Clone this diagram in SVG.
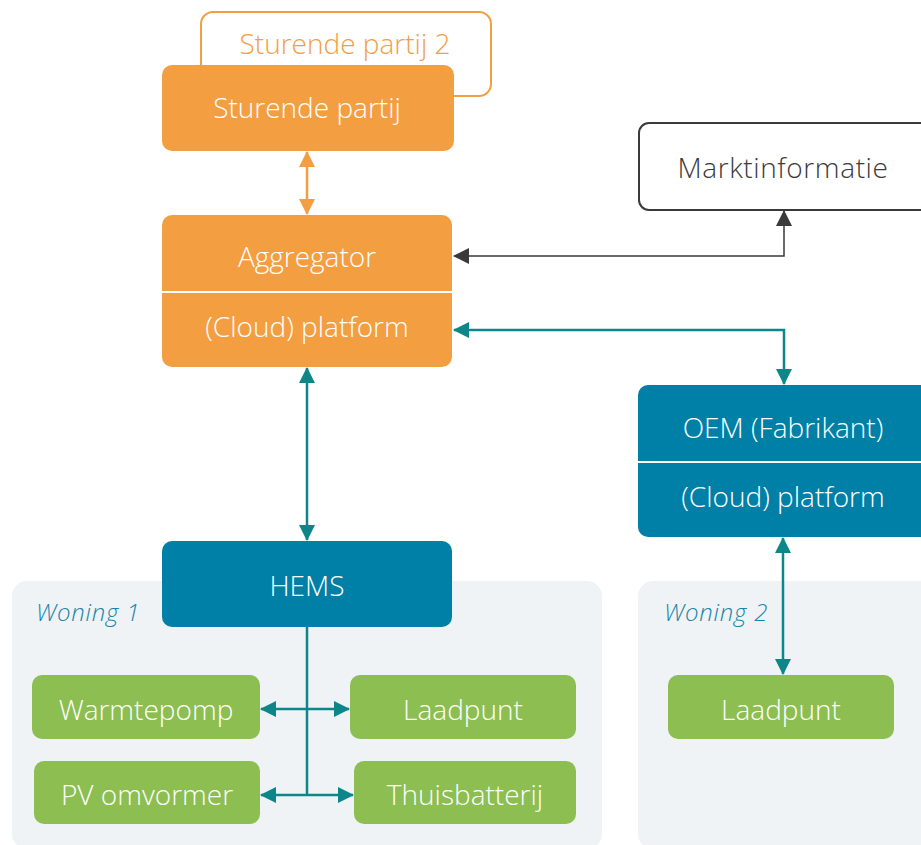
<svg xmlns="http://www.w3.org/2000/svg" width="921" height="845" viewBox="0 0 921 845">
  <defs>
    <style>
      .lbl { font-family: "Open Sans", "Liberation Sans", sans-serif; font-size: 28px; font-weight: 300; text-anchor: middle; fill: #ffffff; }
      .dark { fill: #3a3a3a; }
      .orangeTxt { fill: #f49e42; }
      .zone { fill: #eff3f6; }
      .zoneLbl { font-family: "Open Sans", "Liberation Sans", sans-serif; font-size: 24px; font-style: italic; font-weight: 300; letter-spacing: 0.8px; fill: #1b85a9; }
      .orange { fill: #f49e42; }
      .blue { fill: #0080a6; }
      .green { fill: #8cbe51; }
      .divider { stroke: #ffffff; stroke-width: 2; }
      .conn { fill: none; }
      .teal { stroke: #0d8689; stroke-width: 2.5; marker-start: url(#headTeal); marker-end: url(#headTeal); }
      .gray { stroke: #3a3a3a; stroke-width: 1.5; marker-start: url(#headGray); marker-end: url(#headGray); }
      .orangeLn { stroke: #f49e42; stroke-width: 2.5; marker-start: url(#headOrange); marker-end: url(#headOrange); }
      .teal-plain { stroke: #0d8689; stroke-width: 2.5; }
    </style>
    <marker id="headTeal" viewBox="0 0 16 16" refX="15" refY="8" markerWidth="16" markerHeight="16" markerUnits="userSpaceOnUse" orient="auto-start-reverse">
      <path d="M0,0 L16,8 L0,16 Z" fill="#0d8689"/>
    </marker>
    <marker id="headGray" viewBox="0 0 16 16" refX="15" refY="8" markerWidth="16" markerHeight="16" markerUnits="userSpaceOnUse" orient="auto-start-reverse">
      <path d="M0,0 L16,8 L0,16 Z" fill="#3a3a3a"/>
    </marker>
    <marker id="headOrange" viewBox="0 0 16 16" refX="15" refY="8" markerWidth="16" markerHeight="16" markerUnits="userSpaceOnUse" orient="auto-start-reverse">
      <path d="M0,0 L16,8 L0,16 Z" fill="#f49e42"/>
    </marker>
  </defs>

  <rect width="921" height="845" fill="#ffffff"/>

  <!-- household zones -->
  <g id="woning1">
    <rect class="zone" x="12" y="581" width="590" height="268" rx="15"/>
    <text class="zoneLbl" x="36" y="621">Woning 1</text>
  </g>
  <g id="woning2">
    <rect class="zone" x="638" y="581" width="300" height="268" rx="15"/>
    <text class="zoneLbl" x="664" y="621">Woning 2</text>
  </g>

  <!-- steering parties -->
  <g id="sturende-partij-2">
    <rect x="201" y="12" width="290" height="84" rx="12" fill="#ffffff" stroke="#f49e42" stroke-width="2"/>
    <text class="lbl orangeTxt" x="345" y="54">Sturende partij 2</text>
  </g>
  <g id="sturende-partij">
    <rect class="orange" x="162" y="65" width="292" height="86" rx="10"/>
    <text class="lbl" x="307" y="118">Sturende partij</text>
  </g>

  <g id="aggregator">
    <rect class="orange" x="162" y="215" width="290" height="152" rx="10"/>
    <line class="divider" x1="162" y1="292" x2="452" y2="292"/>
    <text class="lbl" x="307" y="267">Aggregator</text>
    <text class="lbl" x="307" y="337">(Cloud) platform</text>
  </g>

  <g id="marktinformatie">
    <rect x="639" y="123" width="300" height="87" rx="10" fill="#ffffff" stroke="#3a3a3a" stroke-width="2"/>
    <text class="lbl dark" x="783" y="178" style="letter-spacing:0.6px">Marktinformatie</text>
  </g>

  <g id="oem">
    <rect class="blue" x="638" y="385" width="300" height="152" rx="10"/>
    <line class="divider" x1="638" y1="462" x2="921" y2="462"/>
    <text class="lbl" x="783" y="438">OEM (Fabrikant)</text>
    <text class="lbl" x="783" y="507">(Cloud) platform</text>
  </g>

  <g id="hems">
    <rect class="blue" x="162" y="541" width="290" height="86" rx="10"/>
    <text class="lbl" x="307" y="596">HEMS</text>
  </g>

  <!-- devices -->
  <g id="warmtepomp">
    <rect class="green" x="32" y="675" width="228" height="64" rx="10"/>
    <text class="lbl" x="146" y="720">Warmtepomp</text>
  </g>
  <g id="laadpunt-1">
    <rect class="green" x="350" y="675" width="226" height="64" rx="10"/>
    <text class="lbl" x="463" y="720">Laadpunt</text>
  </g>
  <g id="pv-omvormer">
    <rect class="green" x="34" y="761" width="226" height="63" rx="10"/>
    <text class="lbl" x="147" y="805">PV omvormer</text>
  </g>
  <g id="thuisbatterij">
    <rect class="green" x="354" y="761" width="222" height="63" rx="10"/>
    <text class="lbl" x="465" y="805">Thuisbatterij</text>
  </g>
  <g id="laadpunt-2">
    <rect class="green" x="668" y="675" width="226" height="64" rx="10"/>
    <text class="lbl" x="781" y="720">Laadpunt</text>
  </g>

  <!-- connectors -->
  <g id="connectors" class="conn">
    <path class="orangeLn" d="M307,152 V214"/>
    <path class="gray" d="M454,256 H784 V211"/>
    <path class="teal" d="M454,330 H784 V384"/>
    <path class="teal" d="M307,368 V540"/>
    <path class="teal" d="M783,538 V674"/>
    <path class="teal-plain" d="M307,627 V795"/>
    <path class="teal" d="M261,709 H349"/>
    <path class="teal" d="M261,795 H353"/>
  </g>
</svg>
